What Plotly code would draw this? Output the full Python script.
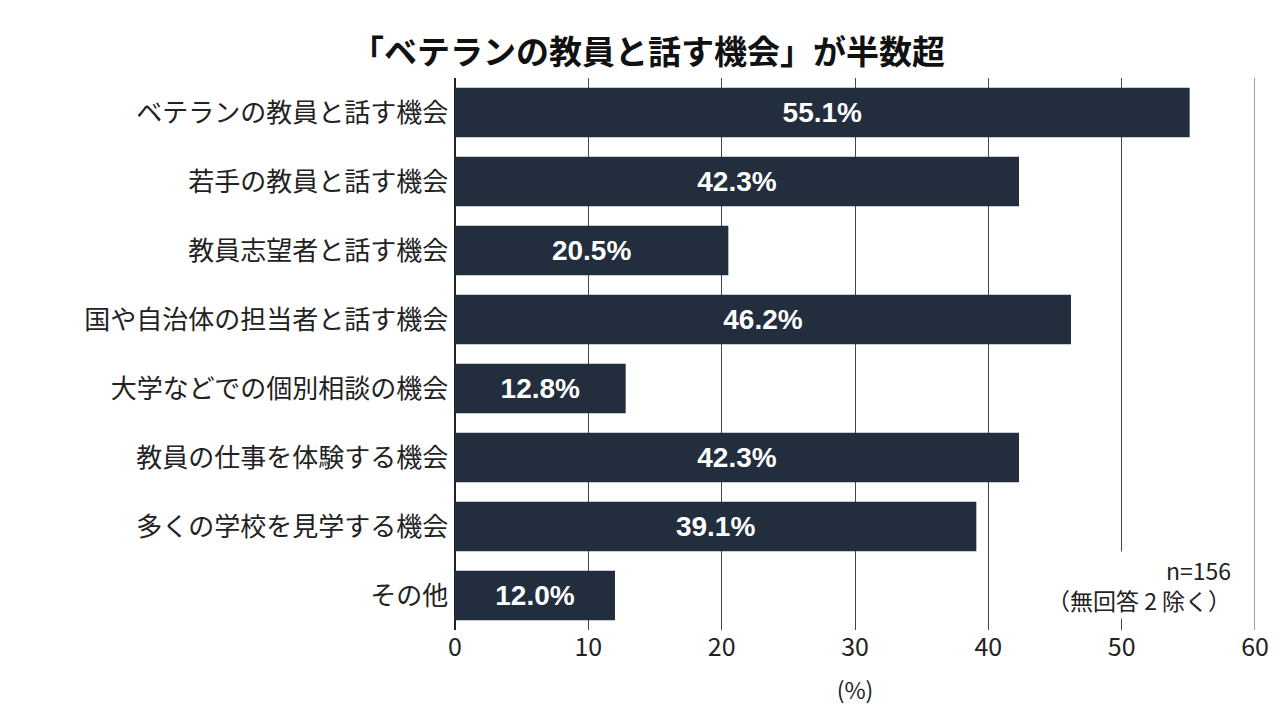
import plotly.graph_objects as go

categories = ["ベテランの教員と話す機会","若手の教員と話す機会","教員志望者と話す機会","国や自治体の担当者と話す機会",
              "大学などでの個別相談の機会","教員の仕事を体験する機会","多くの学校を見学する機会","その他"]
values = [55.1, 42.3, 20.5, 46.2, 12.8, 42.3, 39.1, 12.0]
tick_vals = [0, 10, 20, 30, 40, 50, 60]

font = "Noto Sans CJK JP"
fig = go.Figure(go.Bar(
    x=values, y=categories, orientation="h",
    marker=dict(color="#222d3d", line=dict(width=0)),
    text=[f"<b>{v:.1f}%</b>" for v in values], textposition="inside", insidetextanchor="middle",
    textfont=dict(color="white", size=28, family="Liberation Sans"),
    width=0.72,
))
fig.update_layout(
    width=1280, height=720, paper_bgcolor="white", plot_bgcolor="white",
    margin=dict(l=447, r=33, t=70, b=98, autoexpand=False),
    title=dict(text="<b>「ベテランの教員と話す機会」が半数超</b>", x=0.5, xanchor="center", y=0.955,
               font=dict(family=font, size=33, color="#111")),
    font=dict(family=font, color="#222"),
    showlegend=False,
    xaxis=dict(range=[0, 60], tickvals=tick_vals, showgrid=True, gridcolor="#444", gridwidth=1,
               zeroline=True, zerolinecolor="#222", tickfont=dict(size=25), automargin=False,
               title=dict(text="(%)", font=dict(size=23), standoff=20)),
    yaxis=dict(autorange=False, range=[7.5, -0.5], categoryorder="array", categoryarray=categories,
               tickfont=dict(size=26), ticksuffix=" ", showgrid=False, automargin=False),
)
fig.add_shape(type="line", xref="x", yref="paper", x0=60, x1=60, y0=0, y1=1,
              line=dict(color="#444", width=1), layer="below")
fig.add_annotation(x=51.3, y=6.85, xref="x", yref="y", text="n=156<br>（無回答 2 除く）",
                   showarrow=False, font=dict(size=23, color="#222", family=font), align="right",
                   xanchor="center", bgcolor="white")
fig.write_html("out.html")
